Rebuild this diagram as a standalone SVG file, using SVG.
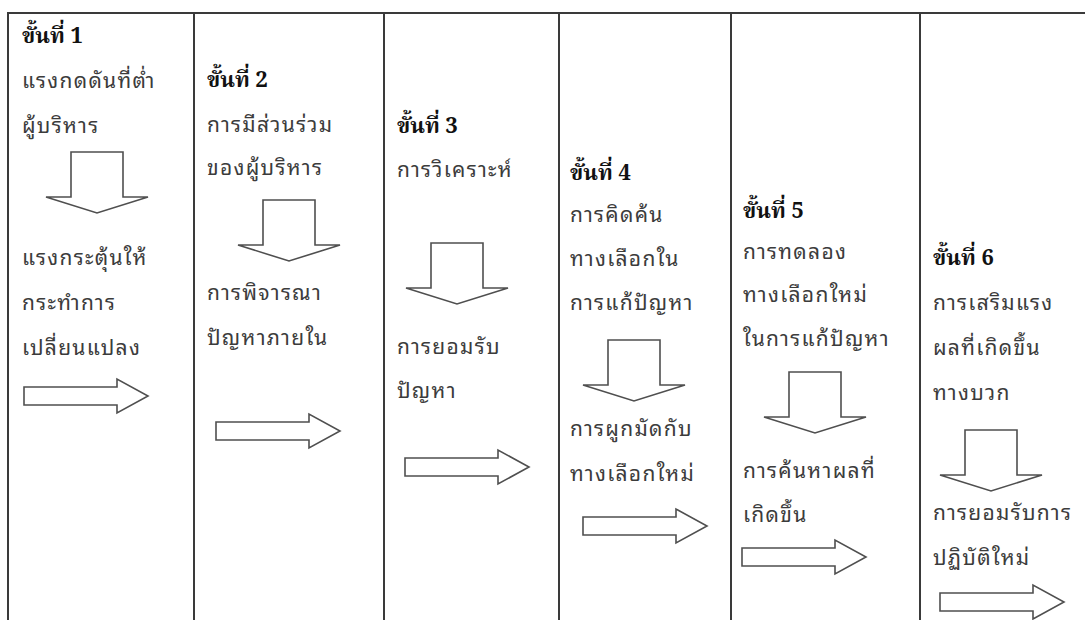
<svg xmlns="http://www.w3.org/2000/svg" xmlns:xlink="http://www.w3.org/1999/xlink" width="1085" height="620" viewBox="0 0 1085 620">
<style>
.bg{fill:#ffffff}
.grid{stroke:#3a3a3a;stroke-width:2;fill:none}
.h{font-family:"Noto Serif Thai","Noto Sans Thai","DejaVu Serif",serif;font-weight:bold;font-size:22px;fill:#111}
.t{font-family:"Noto Sans Thai Looped","Noto Serif Thai","Noto Sans Thai","Noto Sans",sans-serif;font-size:21px;fill:#3c3c3c;letter-spacing:1.3px}
.ar{fill:#ffffff;stroke:#4f4f4f;stroke-width:1.6;stroke-linejoin:miter}
</style>
<defs>
<path id="down" d="M-26,0 H26 V45 H51 L0,61 L-51,45 H-26 Z"/>
<path id="right" d="M0,-9 H93 V-17 L124,0 L93,17 V9 H0 Z"/>
</defs>
<rect class="bg" x="0" y="0" width="1085" height="620"/>
<g id="table">
<path class="grid" d="M8,13 H1085 M8,12 V620 M194,12 V620 M384,12 V620 M559,12 V620 M731,12 V620 M920,12 V620"/>
</g>
<g id="step1">
<text class="h" x="22" y="43">ขั้นที่ 1</text>
<text class="t" x="22" y="88">แรงกดดันที่ต่ำ</text>
<text class="t" x="22" y="133">ผู้บริหาร</text>
<text class="t" x="22" y="265">แรงกระตุ้นให้</text>
<text class="t" x="22" y="310">กระทำการ</text>
<text class="t" x="22" y="355">เปลี่ยนแปลง</text>
</g>
<g id="step2">
<text class="h" x="207" y="87">ขั้นที่ 2</text>
<text class="t" x="207" y="132">การมีส่วนร่วม</text>
<text class="t" x="207" y="175">ของผู้บริหาร</text>
<text class="t" x="207" y="300">การพิจารณา</text>
<text class="t" x="207" y="345">ปัญหาภายใน</text>
</g>
<g id="step3">
<text class="h" x="397" y="133">ขั้นที่ 3</text>
<text class="t" x="397" y="177">การวิเคราะห์</text>
<text class="t" x="397" y="354">การยอมรับ</text>
<text class="t" x="397" y="398">ปัญหา</text>
</g>
<g id="step4">
<text class="h" x="570" y="180">ขั้นที่ 4</text>
<text class="t" x="570" y="222">การคิดค้น</text>
<text class="t" x="570" y="266">ทางเลือกใน</text>
<text class="t" x="570" y="310">การแก้ปัญหา</text>
<text class="t" x="570" y="436">การผูกมัดกับ</text>
<text class="t" x="570" y="481">ทางเลือกใหม่</text>
</g>
<g id="step5">
<text class="h" x="743" y="218">ขั้นที่ 5</text>
<text class="t" x="743" y="259">การทดลอง</text>
<text class="t" x="743" y="302">ทางเลือกใหม่</text>
<text class="t" x="743" y="346">ในการแก้ปัญหา</text>
<text class="t" x="743" y="478">การค้นหาผลที่</text>
<text class="t" x="743" y="522">เกิดขึ้น</text>
</g>
<g id="step6">
<text class="h" x="933" y="265">ขั้นที่ 6</text>
<text class="t" x="933" y="310">การเสริมแรง</text>
<text class="t" x="933" y="355">ผลที่เกิดขึ้น</text>
<text class="t" x="933" y="400">ทางบวก</text>
<text class="t" x="933" y="520">การยอมรับการ</text>
<text class="t" x="933" y="565">ปฏิบัติใหม่</text>
</g>
<g id="connectors">
<use class="ar" xlink:href="#down" href="#down" transform="translate(97,152)"/>
<use class="ar" xlink:href="#down" href="#down" transform="translate(289,200)"/>
<use class="ar" xlink:href="#down" href="#down" transform="translate(457,243)"/>
<use class="ar" xlink:href="#down" href="#down" transform="translate(634,340)"/>
<use class="ar" xlink:href="#down" href="#down" transform="translate(815,372)"/>
<use class="ar" xlink:href="#down" href="#down" transform="translate(991,430)"/>
<use class="ar" xlink:href="#right" href="#right" transform="translate(24,396)"/>
<use class="ar" xlink:href="#right" href="#right" transform="translate(216,431)"/>
<use class="ar" xlink:href="#right" href="#right" transform="translate(405,467)"/>
<use class="ar" xlink:href="#right" href="#right" transform="translate(583,526)"/>
<use class="ar" xlink:href="#right" href="#right" transform="translate(742,557)"/>
<use class="ar" xlink:href="#right" href="#right" transform="translate(940,602)"/>
</g>
</svg>
